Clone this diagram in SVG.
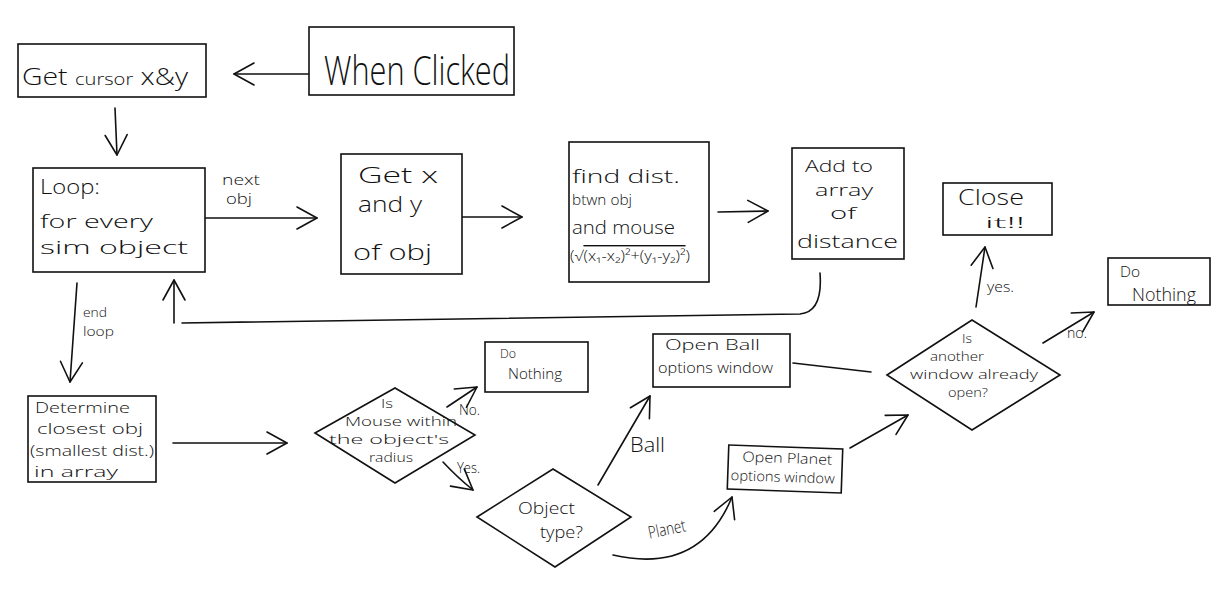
<svg xmlns="http://www.w3.org/2000/svg" width="1214" height="591" viewBox="0 0 1214 591">
<defs>
<style>
.box{fill:#fff;stroke:#111;stroke-width:1.6}
.ln{fill:none;stroke:#111;stroke-width:1.6;stroke-linecap:round;stroke-linejoin:round}
.t{font-family:"Open Sans","Liberation Sans","Noto Sans",sans-serif;font-weight:300;fill:#111}
</style>
<marker id="ah" viewBox="0 0 22 24" markerWidth="22" markerHeight="24" refX="21" refY="12" orient="auto" markerUnits="userSpaceOnUse" overflow="visible">
<path d="M1,1 L21,12 L1,23" fill="none" stroke="#111" stroke-width="1.6" stroke-linecap="round" stroke-linejoin="round"/>
</marker>
</defs>
<rect width="1214" height="591" fill="#fff"/>

<g id="connectors">
<path class="ln" d="M309,74 L234,74" marker-end="url(#ah)"/>
<path class="ln" d="M115,108 L117,155" marker-end="url(#ah)"/>
<path class="ln" d="M205,218 L317,218" marker-end="url(#ah)"/>
<path class="ln" d="M462,217 L522,217" marker-end="url(#ah)"/>
<path class="ln" d="M718,212 L768,211" marker-end="url(#ah)"/>
<path class="ln" d="M820,273 Q823,312 800,314 L182,323"/>
<path class="ln" d="M174,323 L174,280" marker-end="url(#ah)"/>
<path class="ln" d="M77,283 L70,382" marker-end="url(#ah)"/>
<path class="ln" d="M173,443 L287,443" marker-end="url(#ah)"/>
<path class="ln" d="M447,407 L477,387" marker-end="url(#ah)"/>
<path class="ln" d="M443,462 Q458,478 473,490" marker-end="url(#ah)"/>
<path class="ln" d="M598,485 L650,396" marker-end="url(#ah)"/>
<path class="ln" d="M613,555 Q700,575 732,497" marker-end="url(#ah)"/>
<path class="ln" d="M793,363 L871,372"/>
<path class="ln" d="M850,448 L908,415" marker-end="url(#ah)"/>
<path class="ln" d="M976,307 L985,247" marker-end="url(#ah)"/>
<path class="ln" d="M1043,343 L1094,312" marker-end="url(#ah)"/>
<text class="t" x="222" y="185" font-size="14" textLength="38" lengthAdjust="spacingAndGlyphs">next</text>
<text class="t" x="226" y="204" font-size="14" textLength="26" lengthAdjust="spacingAndGlyphs">obj</text>
<text class="t" x="83" y="317" font-size="13" textLength="24" lengthAdjust="spacingAndGlyphs">end</text>
<text class="t" x="83" y="336" font-size="13" textLength="31" lengthAdjust="spacingAndGlyphs">loop</text>
<text class="t" x="459" y="415" font-size="14" textLength="21" lengthAdjust="spacingAndGlyphs">No.</text>
<text class="t" x="457" y="473" font-size="14" textLength="23" lengthAdjust="spacingAndGlyphs">Yes.</text>
<text class="t" x="630" y="452" font-size="21" textLength="35" lengthAdjust="spacingAndGlyphs">Ball</text>
<text class="t" x="648" y="535" font-size="17" textLength="38" lengthAdjust="spacingAndGlyphs" transform="rotate(-12 667 530)">Planet</text>
<text class="t" x="987" y="292" font-size="15" textLength="27" lengthAdjust="spacingAndGlyphs">yes.</text>
<text class="t" x="1067" y="338" font-size="14" textLength="20" lengthAdjust="spacingAndGlyphs">no.</text>
</g>

<g id="when-clicked">
<rect class="box" x="309" y="27" width="205" height="68"/>
<text class="t" x="324" y="85" font-size="40" textLength="186" lengthAdjust="spacingAndGlyphs">When Clicked</text>
</g>

<g id="get-cursor">
<rect class="box" x="18" y="44" width="188" height="53"/>
<text class="t" x="22" y="85" font-size="24" textLength="166" lengthAdjust="spacingAndGlyphs">Get <tspan font-size="17">cursor</tspan> x&amp;y</text>
</g>

<g id="loop">
<rect class="box" x="33" y="168" width="172" height="104"/>
<text class="t" x="40" y="194" font-size="21" textLength="60" lengthAdjust="spacingAndGlyphs">Loop:</text>
<text class="t" x="40" y="228" font-size="19" textLength="113" lengthAdjust="spacingAndGlyphs">for every</text>
<text class="t" x="40" y="254" font-size="19" textLength="148" lengthAdjust="spacingAndGlyphs">sim object</text>
</g>

<g id="get-xy">
<rect class="box" x="341" y="154" width="121" height="120"/>
<text class="t" x="358" y="183" font-size="22" textLength="80" lengthAdjust="spacingAndGlyphs">Get x</text>
<text class="t" x="358" y="212" font-size="22" textLength="64" lengthAdjust="spacingAndGlyphs">and y</text>
<text class="t" x="353" y="260" font-size="22" textLength="79" lengthAdjust="spacingAndGlyphs">of obj</text>
</g>

<g id="find-dist">
<rect class="box" x="569" y="142" width="140" height="140"/>
<text class="t" x="572" y="183" font-size="18" textLength="108" lengthAdjust="spacingAndGlyphs">find dist.</text>
<text class="t" x="572" y="205" font-size="14" textLength="60" lengthAdjust="spacingAndGlyphs">btwn obj</text>
<text class="t" x="572" y="234" font-size="18" textLength="103" lengthAdjust="spacingAndGlyphs">and mouse</text>
<text class="t" x="570" y="261" font-size="14" textLength="120" lengthAdjust="spacingAndGlyphs">(√<tspan text-decoration="overline">(x₁-x₂)²+(y₁-y₂)²</tspan>)</text>
</g>

<g id="add-array">
<rect class="box" x="792" y="148" width="112" height="111"/>
<text class="t" x="805" y="172" font-size="17" textLength="68" lengthAdjust="spacingAndGlyphs">Add to</text>
<text class="t" x="815" y="196" font-size="17" textLength="58" lengthAdjust="spacingAndGlyphs">array</text>
<text class="t" x="830" y="219" font-size="17" textLength="26" lengthAdjust="spacingAndGlyphs">of</text>
<text class="t" x="797" y="248" font-size="19" textLength="101" lengthAdjust="spacingAndGlyphs">distance</text>
</g>

<g id="close-it">
<rect class="box" x="943" y="183" width="109" height="52"/>
<text class="t" x="958" y="205" font-size="22" textLength="66" lengthAdjust="spacingAndGlyphs">Close</text>
<text class="t" x="985" y="228" font-size="15" textLength="40" lengthAdjust="spacingAndGlyphs">it!!</text>
</g>

<g id="do-nothing-2">
<rect class="box" x="1108" y="258" width="102" height="47"/>
<text class="t" x="1120" y="277" font-size="15" textLength="20" lengthAdjust="spacingAndGlyphs">Do</text>
<text class="t" x="1132" y="301" font-size="18" textLength="64" lengthAdjust="spacingAndGlyphs">Nothing</text>
</g>

<g id="determine">
<rect class="box" x="28" y="396" width="128" height="86"/>
<text class="t" x="35" y="413" font-size="15" textLength="95" lengthAdjust="spacingAndGlyphs">Determine</text>
<text class="t" x="37" y="434" font-size="15" textLength="106" lengthAdjust="spacingAndGlyphs">closest obj</text>
<text class="t" x="30" y="456" font-size="15" textLength="124" lengthAdjust="spacingAndGlyphs">(smallest dist.)</text>
<text class="t" x="34" y="477" font-size="15" textLength="84" lengthAdjust="spacingAndGlyphs">in array</text>
</g>

<g id="mouse-within">
<polygon class="box" points="315,433 395,388 475,435 395,483"/>
<text class="t" x="381" y="408" font-size="13" textLength="12" lengthAdjust="spacingAndGlyphs">Is</text>
<text class="t" x="345" y="426" font-size="13" textLength="112" lengthAdjust="spacingAndGlyphs">Mouse within</text>
<text class="t" x="329" y="444" font-size="13" textLength="120" lengthAdjust="spacingAndGlyphs">the object's</text>
<text class="t" x="369" y="462" font-size="13" textLength="44" lengthAdjust="spacingAndGlyphs">radius</text>
</g>

<g id="do-nothing-1">
<rect class="box" x="485" y="342" width="103" height="50"/>
<text class="t" x="500" y="358" font-size="13" textLength="16" lengthAdjust="spacingAndGlyphs">Do</text>
<text class="t" x="508" y="379" font-size="15" textLength="54" lengthAdjust="spacingAndGlyphs">Nothing</text>
</g>

<g id="object-type">
<polygon class="box" points="477,517 553,469 631,517 555,567"/>
<text class="t" x="518" y="514" font-size="17" textLength="57" lengthAdjust="spacingAndGlyphs">Object</text>
<text class="t" x="540" y="538" font-size="17" textLength="43" lengthAdjust="spacingAndGlyphs">type?</text>
</g>

<g id="open-ball">
<rect class="box" x="653" y="334" width="137" height="53"/>
<text class="t" x="665" y="350" font-size="15" textLength="95" lengthAdjust="spacingAndGlyphs">Open Ball</text>
<text class="t" x="658" y="373" font-size="15" textLength="115" lengthAdjust="spacingAndGlyphs">options window</text>
</g>

<g id="open-planet" transform="rotate(2 785 469)">
<rect class="box" x="728" y="447" width="114" height="44"/>
<text class="t" x="742" y="463" font-size="14" textLength="90" lengthAdjust="spacingAndGlyphs">Open Planet</text>
<text class="t" x="731" y="482" font-size="14" textLength="104" lengthAdjust="spacingAndGlyphs">options window</text>
</g>

<g id="window-open">
<polygon class="box" points="887,375 972,320 1060,375 972,430"/>
<text class="t" x="962" y="343" font-size="13" textLength="10" lengthAdjust="spacingAndGlyphs">Is</text>
<text class="t" x="930" y="361" font-size="13" textLength="54" lengthAdjust="spacingAndGlyphs">another</text>
<text class="t" x="910" y="379" font-size="13" textLength="128" lengthAdjust="spacingAndGlyphs">window already</text>
<text class="t" x="948" y="397" font-size="13" textLength="40" lengthAdjust="spacingAndGlyphs">open?</text>
</g>
</svg>
